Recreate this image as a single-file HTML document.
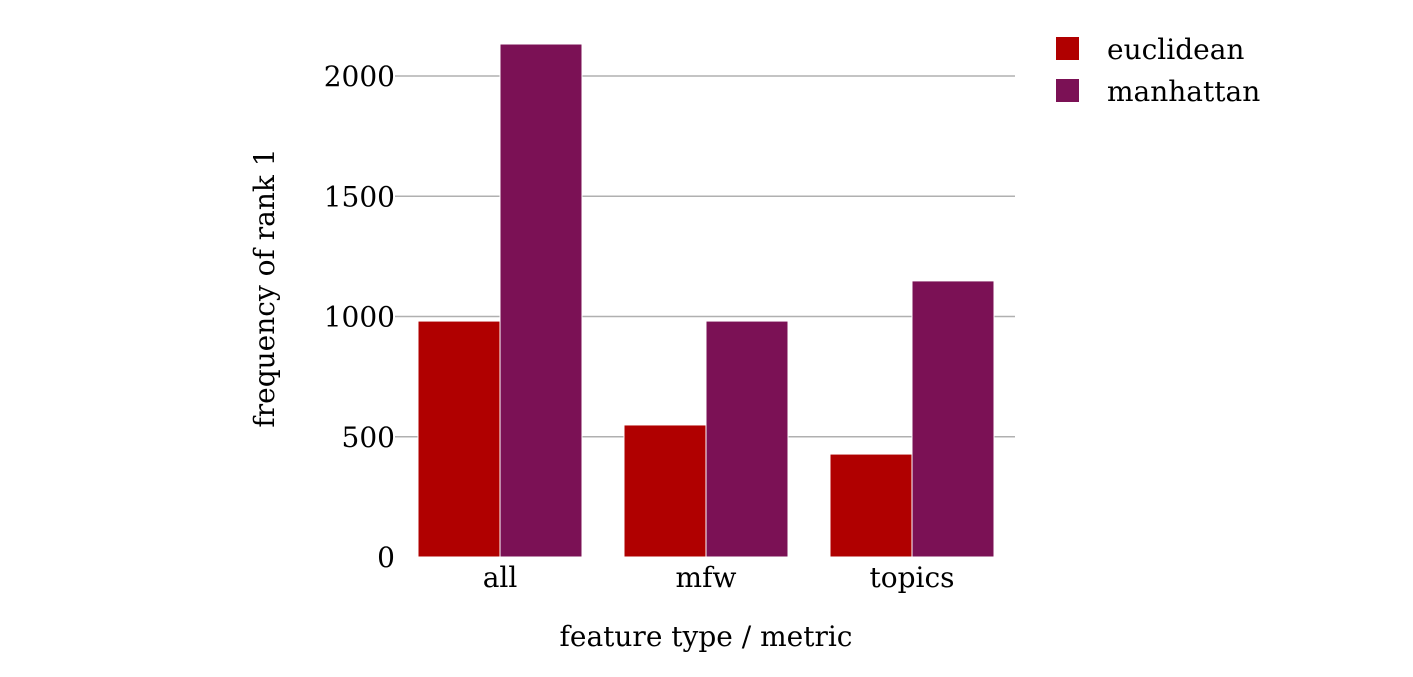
<!DOCTYPE html>
<html><head><meta charset="utf-8"><style>
body{margin:0;background:#fff}
svg text{font-family:"DejaVu Serif","Liberation Serif",serif;font-size:28px;fill:#000}
</style></head><body>
<svg width="1413" height="672">
<g id="grid"></g><g id="bars"></g><g id="ticks"></g>
<text x="274" y="288" text-anchor="middle" transform="rotate(-90 274 288)">frequency of rank 1</text>
<text x="706" y="646" text-anchor="middle">feature type / metric</text>
<g>
<rect x="1056" y="37" width="23" height="23" fill="#b00000"/>
<text x="1107" y="59">euclidean</text>
<rect x="1056" y="79" width="23" height="23" fill="#7b1155"/>
<text x="1107" y="101">manhattan</text>
</g>
</svg>
<script>
const categories=["all","mfw","topics"];
const euclidean=[981,549,428];
const manhattan=[2133,981,1148];
const yTicks=[0,500,1000,1500,2000];
const ns="http://www.w3.org/2000/svg";
const y0=557,pxPer=481/2000;
const y=v=>y0-v*pxPer;
const cx=i=>500+i*206;
const bw=82;
function mk(tag,attrs,parent,txt){const e=document.createElementNS(ns,tag);for(const k in attrs)e.setAttribute(k,attrs[k]);if(txt!==undefined)e.textContent=txt;document.getElementById(parent).appendChild(e);return e;}
yTicks.forEach(t=>{
  if(t>0){const l=mk("line",{x1:395,x2:1015,y1:y(t),y2:y(t),stroke:"#b0b0b0","stroke-width":1.5},"grid");
  
  }
  const tx=mk("text",{x:395,y:y(t)+10,"text-anchor":"end"},"ticks",String(t));
  
  
});
categories.forEach((c,i)=>{
  const a=mk("rect",{x:cx(i)-bw,y:y(euclidean[i]),width:bw,height:euclidean[i]*pxPer,fill:"#b00000",stroke:"#fff","stroke-width":1},"bars");
  
  
  const b=mk("rect",{x:cx(i),y:y(manhattan[i]),width:bw,height:manhattan[i]*pxPer,fill:"#7b1155",stroke:"#fff","stroke-width":1},"bars");
  
  
  const t=mk("text",{x:cx(i),y:587,"text-anchor":"middle"},"ticks",c);
  
  
});
</script>
</body></html>
